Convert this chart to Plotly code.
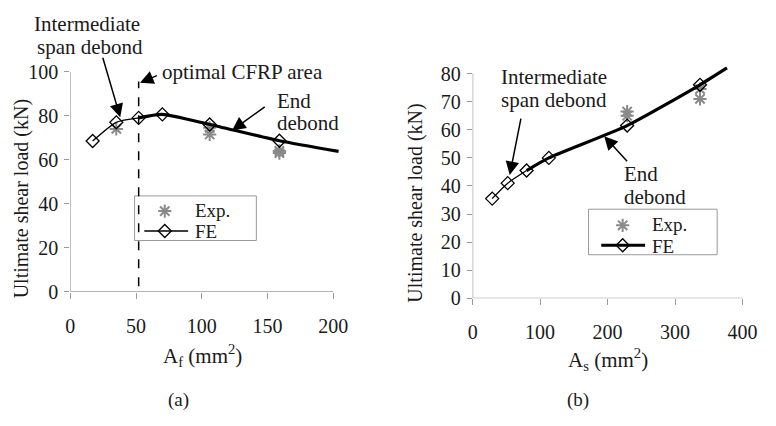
import plotly.graph_objects as go

W, H = 776, 426
FONT = "Liberation Serif"
TXT = "#1a1a1a"
GRAY = "#8a8a8a"
AX = "#9a9a9a"

# ---------------- data (a) ----------------
a_fe_x = [17, 35, 52, 70, 106, 159]
a_fe_y = [68.5, 77, 79, 80.6, 76, 68.6]
a_line_end_x = [204]
a_line_end_y = [63.8]
a_exp_x = [35, 106, 106, 159, 159]
a_exp_y = [74, 74.5, 71.5, 64, 63]
a_opt_x = 52
a_opt_top = 95.5
a_xticks = [0, 50, 100, 150, 200]
a_yticks = [0, 20, 40, 60, 80, 100]

# ---------------- data (b) ----------------
b_fe_x = [29, 52, 80, 113, 229, 337]
b_fe_y = [35.5, 41, 45.5, 50, 61.5, 76]
b_line_end_x = [377]
b_line_end_y = [82]
b_exp_x = [229, 229, 337, 337]
b_exp_y = [66.5, 65, 74.5, 71]
b_xticks = [0, 100, 200, 300, 400]
b_yticks = [0, 10, 20, 30, 40, 50, 60, 70, 80]

legend_labels = ["Exp.", "FE"]

def px(x):
    return x / W

def py(y):
    return 1 - y / H

EXP_MARK = dict(symbol="asterisk-open", size=11, color=GRAY, line=dict(color=GRAY, width=2))
FE_MARK = dict(symbol="diamond-open", size=10, color="black", line=dict(color="black", width=1.3))

fig = go.Figure()

fig.add_trace(go.Scatter(x=a_exp_x, y=a_exp_y, mode="markers", marker=EXP_MARK,
                         xaxis="x", yaxis="y"))
fig.add_trace(go.Scatter(x=a_fe_x[:3], y=a_fe_y[:3], mode="lines",
                         line=dict(color="black", width=1.3, shape="spline", smoothing=0.6),
                         xaxis="x", yaxis="y"))
fig.add_trace(go.Scatter(x=a_fe_x[2:] + a_line_end_x, y=a_fe_y[2:] + a_line_end_y,
                         mode="lines",
                         line=dict(color="black", width=3.2, shape="spline", smoothing=0.6),
                         xaxis="x", yaxis="y"))
fig.add_trace(go.Scatter(x=a_fe_x, y=a_fe_y, mode="markers", marker=FE_MARK,
                         xaxis="x", yaxis="y"))

fig.add_trace(go.Scatter(x=b_exp_x, y=b_exp_y, mode="markers", marker=EXP_MARK,
                         xaxis="x2", yaxis="y2"))
fig.add_trace(go.Scatter(x=b_fe_x[:3], y=b_fe_y[:3], mode="lines",
                         line=dict(color="black", width=1.3, shape="spline", smoothing=0.6),
                         xaxis="x2", yaxis="y2"))
fig.add_trace(go.Scatter(x=b_fe_x[2:] + b_line_end_x, y=b_fe_y[2:] + b_line_end_y,
                         mode="lines",
                         line=dict(color="black", width=3.2, shape="spline", smoothing=0.6),
                         xaxis="x2", yaxis="y2"))
fig.add_trace(go.Scatter(x=b_fe_x, y=b_fe_y, mode="markers", marker=FE_MARK,
                         xaxis="x2", yaxis="y2"))

# hand-drawn legends on a pixel overlay axis
def legend_box(x0, y0, lw_fe, sym_x, line_x0, line_x1, row1, row2):
    fig.add_trace(go.Scatter(x=[x0 + sym_x], y=[y0 + row1], mode="markers", marker=EXP_MARK,
                             xaxis="x3", yaxis="y3"))
    fig.add_trace(go.Scatter(x=[x0 + line_x0, x0 + line_x1], y=[y0 + row2, y0 + row2],
                             mode="lines", line=dict(color="black", width=lw_fe),
                             xaxis="x3", yaxis="y3"))
    fig.add_trace(go.Scatter(x=[x0 + sym_x], y=[y0 + row2], mode="markers", marker=FE_MARK,
                             xaxis="x3", yaxis="y3"))

legend_a = (133, 195, 258, 242)
legend_b = (599, 209, 731, 257)
legend_box(133, 195, 1.3, 31, 10, 55, 16, 37)
legend_box(599, 209, 3.2, 35, 13, 58, 17, 38)

tickfont = dict(family=FONT, size=20, color=TXT)
common_x = dict(showgrid=False, zeroline=False, showline=False, ticks="outside",
                ticklen=6, tickcolor=AX, tickwidth=1, tickfont=tickfont,
                ticklabelstandoff=10, fixedrange=True)
common_y = dict(showgrid=False, zeroline=False, showline=False, ticks="outside",
                ticklen=5, tickcolor=AX, tickwidth=1, tickfont=tickfont,
                ticklabelstandoff=2, fixedrange=True)

fig.update_layout(
    width=W, height=H, margin=dict(l=0, r=0, t=0, b=0),
    paper_bgcolor="white", plot_bgcolor="rgba(0,0,0,0)",
    font=dict(family=FONT, size=20, color=TXT),
    showlegend=False,
    xaxis=dict(common_x, range=[0, 208], tickvals=a_xticks,
               domain=[px(67), px(67 + 208 * 1.35)], anchor="y"),
    yaxis=dict(common_y, range=[0, 100], tickvals=a_yticks,
               domain=[py(296), py(64)], anchor="x"),
    xaxis2=dict(common_x, range=[0, 400], tickvals=b_xticks,
                domain=[px(480), px(757)], anchor="y2"),
    yaxis2=dict(common_y, range=[0, 82.5], tickvals=b_yticks,
                domain=[py(303), py(303 - 82.5 * 2.9625)], anchor="x2"),
    xaxis3=dict(range=[0, W], domain=[0, 1], visible=False, fixedrange=True, anchor="y3"),
    yaxis3=dict(range=[H, 0], domain=[0, 1], visible=False, fixedrange=True, anchor="x3"),
)

shapes = []
for (x0, y0, x1, y1) in (legend_a, legend_b):
    shapes.append(dict(type="rect", xref="paper", yref="paper", x0=px(x0), x1=px(x1),
                       y0=py(y1), y1=py(y0), fillcolor="white",
                       line=dict(color=AX, width=1), layer="below"))
shapes.append(dict(type="line", xref="x", yref="y", x0=0, x1=200, y0=0, y1=0,
                   line=dict(color=AX, width=1.2)))
shapes.append(dict(type="line", xref="x", yref="y", x0=0, x1=0, y0=0, y1=100,
                   line=dict(color=AX, width=1.2)))
shapes.append(dict(type="line", xref="x2", yref="y2", x0=0, x1=400, y0=0, y1=0,
                   line=dict(color=AX, width=1.2)))
shapes.append(dict(type="line", xref="x2", yref="y2", x0=0, x1=0, y0=0, y1=80,
                   line=dict(color=AX, width=1.2)))
shapes.append(dict(type="line", xref="x", yref="y", x0=a_opt_x, x1=a_opt_x, y0=2.5,
                   y1=a_opt_top, line=dict(color="black", width=1.5, dash="dash")))
fig.update_layout(shapes=shapes)

ann = []
def text(x, y, s, xanchor="center", size=21):
    ann.append(dict(xref="paper", yref="paper", x=px(x), y=py(y), text=s,
                    showarrow=False, xanchor=xanchor, yanchor="middle",
                    font=dict(family=FONT, size=size, color=TXT)))

def arrow(xr, yr, hx, hy, tx, ty):
    ann.append(dict(xref=xr, yref=yr, axref=xr, ayref=yr, x=hx, y=hy, ax=tx, ay=ty,
                    text="", showarrow=True, arrowhead=2, arrowsize=1.8,
                    arrowwidth=1.5, arrowcolor="black"))

text(84, 14, "Intermediate")
text(87, 38, "span debond")
arrow("x", "y", 38, 79.3, 24.4, 107)
text(244, 64, "optimal CFRP area")
arrow("x", "y", 53, 95, 67, 98.5)
text(277, 95, "End", xanchor="left")
text(277, 118, "debond", xanchor="left")
arrow("x", "y", 123, 73.3, 149, 84.5)

text(507, 70, "Intermediate", xanchor="left")
text(507, 94, "span debond", xanchor="left")
arrow("x2", "y2", 55, 43.9, 72, 64.5)
text(633, 172, "End", xanchor="left")
text(633, 196, "debond", xanchor="left")
arrow("x2", "y2", 195, 57.7, 231, 48.3)

text(133 + 60, 195 + 15, legend_labels[0], xanchor="left", size=19)
text(133 + 60, 195 + 38, legend_labels[1], xanchor="left", size=19)
text(599 + 63, 209 + 16, legend_labels[0], xanchor="left", size=19)
text(599 + 63, 209 + 39, legend_labels[1], xanchor="left", size=19)

ann.append(dict(xref="paper", yref="paper", x=px(17), y=py(198), textangle=-90,
                xanchor="center", yanchor="middle",
                text="Ultimate shear load (kN)", showarrow=False,
                font=dict(family=FONT, size=20, color=TXT)))
ann.append(dict(xref="paper", yref="paper", x=px(421), y=py(203), textangle=-90,
                xanchor="center", yanchor="middle",
                text="Ultimate shear load (kN)", showarrow=False,
                font=dict(family=FONT, size=20, color=TXT)))
text(203, 363, "A<sub>f</sub> (mm<sup>2</sup>)")
text(619, 367, "A<sub>s</sub> (mm<sup>2</sup>)")
text(178, 410, "(a)", size=19)
text(588, 410, "(b)", size=19)

fig.update_layout(annotations=ann)
fig.write_html("out.html")
